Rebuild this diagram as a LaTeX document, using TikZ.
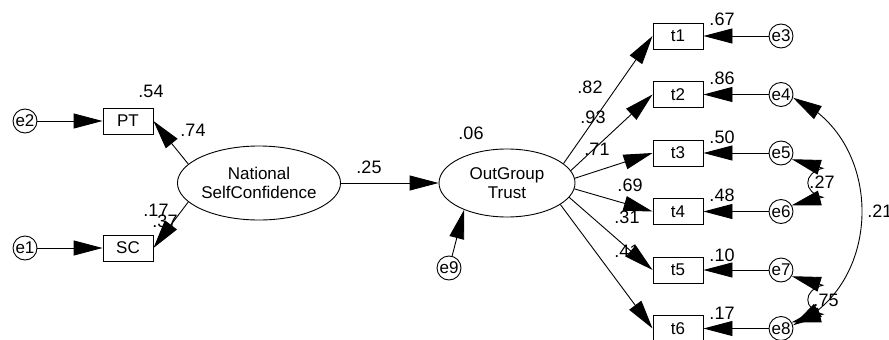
\documentclass[tikz,border=0pt]{standalone}
\usepackage{fontspec}
\setmainfont{Liberation Sans}
\usetikzlibrary{shapes.geometric,arrows.meta,bending}
\newcommand\nodefnt{\fontsize{17}{19}\selectfont}
\newcommand\labfnt{\fontsize{18}{20}\selectfont}
\tikzset{
  obs/.style={draw, rectangle, minimum width=50pt, minimum height=26pt, inner sep=0pt, font=\nodefnt},
  err/.style={draw, circle, minimum size=24pt, inner sep=0pt, font=\nodefnt},
  lat/.style={draw, ellipse, inner sep=0pt, align=center, font=\nodefnt},
  lab/.style={inner sep=0pt, font=\labfnt},
  tip/.tip={Triangle[length=29pt,width=15pt]},
  ftip/.tip={Triangle[length=29pt,width=15pt,flex]},
  reg/.style={draw, -tip},
  cov/.style={draw, ftip-ftip},
}
\begin{document}
\begin{tikzpicture}[x=1pt,y=-1pt,line width=0.9pt]
\useasboundingbox (0,0) rectangle (889,340);
% nodes
\node[err] (e2) at (25,121) {e2};
\node[obs] (PT) at (128,121) {PT};
\node[err] (e1) at (25,248) {e1};
\node[obs] (SC) at (128,248) {SC};
\node[lat, minimum width=138pt, minimum height=74pt] (NSC) at (259,183) {National\\SelfConfidence};
\node[lat, minimum width=136pt, minimum height=68pt] (OGT) at (507,183) {OutGroup\\Trust};
\node[err] (e9) at (449,268) {e9};
\node[obs] (t1) at (678,36) {t1};
\node[obs] (t2) at (678,94.5) {t2};
\node[obs] (t3) at (678,153) {t3};
\node[obs] (t4) at (678,211.5) {t4};
\node[obs] (t5) at (678,270) {t5};
\node[obs] (t6) at (678,328.5) {t6};
\node[err] (e3) at (781,36) {e3};
\node[err] (e4) at (781,94.5) {e4};
\node[err] (e5) at (781,153) {e5};
\node[err] (e6) at (781,211.5) {e6};
\node[err] (e7) at (781,270) {e7};
\node[err] (e8) at (781,328.5) {e8};
% labels
\node[lab] (l54) at (151,91) {.54};
\node[lab] (l74) at (193,130) {.74};
\node[lab] (l17a) at (156,210) {.17};
\node[lab] (l37) at (165,221) {.37};
\node[lab] (l25) at (369,167) {.25};
\node[lab] (l06) at (471,133) {.06};
\node[lab] (l82) at (590,87) {.82};
\node[lab] (l93) at (593,117) {.93};
\node[lab] (l71) at (597,149) {.71};
\node[lab] (l69) at (630,185) {.69};
\node[lab] (l31) at (627,217) {.31};
\node[lab] (l41) at (627,251) {.41};
\node[lab] (l67) at (722,19) {.67};
\node[lab] (l86) at (722,78) {.86};
\node[lab] (l50) at (722,137) {.50};
\node[lab] (l48) at (722,195) {.48};
\node[lab] (l10) at (722,255) {.10};
\node[lab] (l17b) at (722,313) {.17};
\node[lab] (l27) at (822,182) {.27};
\node[lab] (l75) at (826,300) {.75};
\node[lab, anchor=west] (l21) at (867,211) {.21};
% paths
\path[reg] (e2) -- (PT);
\path[reg] (e1) -- (SC);
\path[reg] (NSC.165) -- (PT.east);
\path[reg] (NSC.195) -- (SC.east);
\path[reg] (NSC) -- (OGT);
\path[reg] (e9) -- (OGT.212);
\path[reg] (OGT.19) -- (t1.west);
\path[reg] (OGT.11) -- (t2.west);
\path[reg] (OGT.4) -- (t3.west);
\path[reg] (OGT.-5) -- (t4.west);
\path[reg] (OGT.-13) -- (t5.west);
\path[reg] (OGT.-22) -- (t6.west);
\path[reg] (e3) -- (t1);
\path[reg] (e4) -- (t2);
\path[reg] (e5) -- (t3);
\path[reg] (e6) -- (t4);
\path[reg] (e7) -- (t5);
\path[reg] (e8) -- (t6);
\path[draw, tip-tip] (e5.-30) -- ++(31,9) .. controls +(-20,5) and +(-20,-5) .. ++(0,29) -- (e6.30);
\path[draw, tip-tip] (e7.-30) -- ++(31,9) .. controls +(-20,5) and +(-20,-5) .. ++(0,29) -- (e8.30);
\path[cov] (e4.-15) .. controls +(92,40) and +(92,-40) .. (e8.15);
\end{tikzpicture}
\end{document}
